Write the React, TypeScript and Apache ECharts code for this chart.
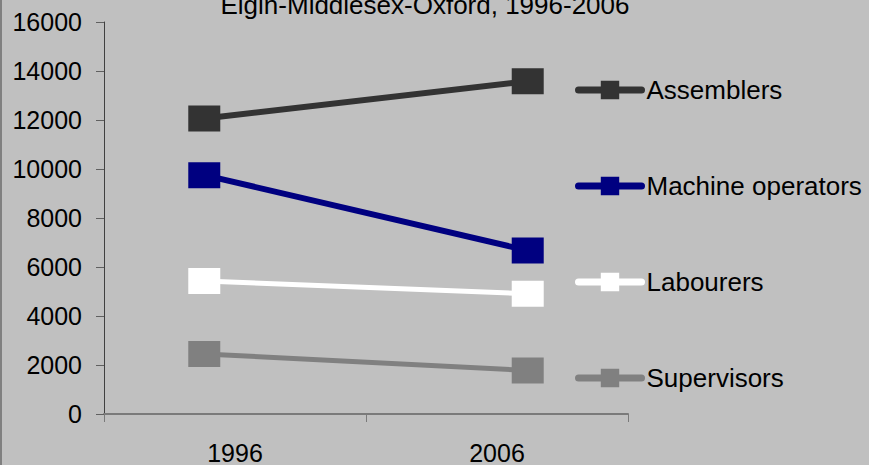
import React, { useEffect, useRef } from "react";
import * as echarts from "echarts";

const titleText = "Elgin-Middlesex-Oxford, 1996-2006";
const categories = ["1996", "2006"];
const seriesNames = ["Assemblers", "Machine operators", "Labourers", "Supervisors"];
const assemblers = [12060, 13580];
const machineOperators = [9750, 6670];
const labourers = [5430, 4910];
const supervisors = [2450, 1780];
const yTicks = { min: 0, max: 16000, interval: 2000 };

const seriesValues = [assemblers, machineOperators, labourers, supervisors];
const seriesColors = ["#333333", "#000080", "#ffffff", "#808080"];
const seriesWidths = [6, 6, 5, 5];

export default function App() {
  const ref = useRef<HTMLDivElement>(null);
  useEffect(() => {
    if (!ref.current) return;
    const chart = echarts.init(ref.current, undefined, { renderer: "svg" });
    const font = "'Liberation Sans', Arial, sans-serif";
    chart.setOption({
      animation: false,
      backgroundColor: "#c0c0c0",
      textStyle: { fontFamily: font },
      grid: { left: 104, right: 241, top: 22, bottom: 49, containLabel: false },
      graphic: [
        {
          type: "text",
          x: 425,
          y: 4.5,
          style: {
            text: titleText,
            fill: "#000",
            font: `26px ${font}`,
            textAlign: "center",
            textVerticalAlign: "middle",
          },
        },
        {
          type: "rect",
          shape: { x: 0, y: 0, width: 2, height: 465 },
          style: { fill: "#808080" },
        },
      ],
      legend: {
        orient: "vertical",
        left: 575,
        top: 77,
        padding: 0,
        itemWidth: 63,
        itemHeight: 23,
        itemGap: 70,
        data: seriesNames,
        textStyle: { fontSize: 26, color: "#000", fontFamily: font },
        lineStyle: { width: 7, cap: "round" },
      },
      xAxis: [
        {
          type: "category",
          data: categories,
          boundaryGap: true,
          axisLine: { onZero: false, lineStyle: { color: "#7a7a7a", width: 2 } },
          axisTick: { show: true, length: 8, lineStyle: { color: "#7a7a7a", width: 1 } },
          axisLabel: { color: "#000", fontSize: 25, margin: 26, fontFamily: font },
          splitLine: { show: false },
        },
        {
          type: "value",
          show: false,
          min: -0.31,
          max: 1.31,
          position: "bottom",
          axisLine: { onZero: false },
        },
      ],
      yAxis: {
        type: "value",
        min: yTicks.min,
        max: yTicks.max,
        interval: yTicks.interval,
        axisLine: { show: true, onZero: false, lineStyle: { color: "#404040", width: 1 } },
        axisTick: { show: true, length: 8, lineStyle: { color: "#606060" } },
        axisLabel: {
          color: "#000",
          fontSize: 25,
          margin: 22,
          fontFamily: font,
          formatter: (v: number) => String(v),
        },
        splitLine: { show: false },
      },
      series: seriesNames.map((name, i) => ({
        name,
        type: "line",
        xAxisIndex: 1,
        data: seriesValues[i].map((v, j) => [j, v]),
        symbol: "rect",
        symbolSize: [32, 26],
        lineStyle: { color: seriesColors[i], width: seriesWidths[i] },
        itemStyle: { color: seriesColors[i] },
      })),
    });
    return () => chart.dispose();
  }, []);
  return (
    <div
      ref={ref}
      style={{ position: "absolute", left: 0, top: 0, width: 869, height: 465 }}
    />
  );
}
